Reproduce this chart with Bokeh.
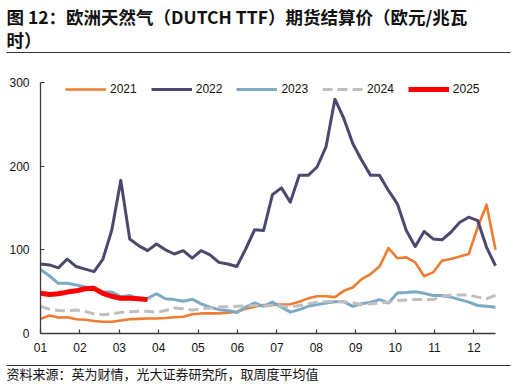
from bokeh.plotting import figure
from bokeh.models import Range1d, FixedTicker, Legend, LegendItem, Label
from bokeh.embed import file_html
from bokeh.resources import INLINE

# ---------------- data ----------------
title_line1 = "图 12：欧洲天然气（DUTCH TTF）期货结算价（欧元/兆瓦"
title_line2 = "时）"
source_text = "资料来源：英为财情，光大证券研究所，取周度平均值"

month_labels = ["01", "02", "03", "04", "05", "06", "07", "08", "09", "10", "11", "12"]
y_ticks = [0, 100, 200, 300]
years = ["2021", "2022", "2023", "2024", "2025"]
weeks_per_axis_year = 53  # weekly points per 12 month ticks

v2021 = [17.5, 21.5, 19, 19.5, 17, 16.5, 15, 14, 14, 15.5, 17, 17.5, 18, 18, 18.5, 19.5,
         20, 23, 24, 24, 24, 25, 26, 29.5, 32, 34, 34.5, 34.5, 35, 38, 42, 44.5, 44.5,
         43.5, 51, 55, 65, 71, 80, 102, 90, 91, 85, 68.5, 73, 87, 89, 92, 95, 127, 154, 100]
v2022 = [83, 82, 78.5, 89, 80, 77, 74, 89, 124, 183, 113, 105, 99, 107, 100, 95,
         99, 90, 99, 94, 85, 83, 80, 101, 124, 123, 166, 174, 157, 189, 189, 199, 223,
         280, 257, 227, 207, 189, 189, 171, 155, 123, 104, 122, 113, 112, 121, 133, 139,
         135, 103, 81]
v2023 = [76.5, 69, 60, 60, 58, 55.5, 53.5, 49.5, 49.5, 44, 45.5, 41.5, 42, 47.5, 41.5,
         40.5, 38.5, 41, 35.5, 31.5, 28.5, 27.5, 25, 31.5, 36.5, 32.5, 37.5, 31.5, 25.5,
         28.5, 32.5, 34.5, 36.5, 38, 38, 32.5, 35.5, 37.5, 40.5, 36.5, 48.5, 49, 50, 48,
         45.5, 45.5, 43.5, 40.5, 37.5, 33.5, 32.5, 31.5]
v2024 = [32.5, 29, 27.5, 27, 28, 26.5, 23.5, 22.5, 23.5, 25, 26, 26.5, 26.5, 25.5, 27.5,
         30.5, 29.5, 28, 29.5, 30.5, 32, 32, 32.5, 33, 33.5, 33, 33.5, 33, 31.5, 33.5,
         35.5, 37.5, 38, 38.5, 38, 36.5, 34.5, 35.5, 36.5, 37.5, 39.5, 40, 40.5, 40.5,
         40.5, 44, 46, 46, 46, 43.5, 41.5, 45.5]
v2025 = [48, 46.5, 47.5, 49.5, 51, 53.5, 54, 48, 44.5, 42, 42, 41.5, 40.5]

series_values = [v2021, v2022, v2023, v2024, v2025]
colors = ["#EE7D31", "#4B4A6E", "#7DA9C3", "#BFBFBF", "#FF0000"]
widths = [2.6, 3, 3, 3, 5]
dashes = ["solid", "solid", "solid", "10 5", "solid"]

TFONT = "Noto Sans CJK SC"
TICK_FONT = "Liberation Sans"

# ---------------- geometry (pixels) ----------------
W, H = 516, 386
PL, PR, PT, PB = 40, 495, 82, 333          # plot area edges on the canvas
x_end = 51 * 12 / weeks_per_axis_year
y_top = 300
sx = (PR - PL) / x_end
sy = (PB - PT) / y_top


def px_to_x(px):
    return (px - PL) / sx


def py_to_y(py):
    return (PB - py) / sy


p = figure(width=W, height=H, title=None, output_backend="svg", toolbar_location=None,
           x_range=Range1d(px_to_x(0), px_to_x(W)),
           y_range=Range1d(py_to_y(H), py_to_y(0)),
           min_border=0)
p.outline_line_color = None
p.grid.visible = False

renderers = []
for vals, c, w, d in zip(series_values, colors, widths, dashes):
    xs = [i * 12 / weeks_per_axis_year for i in range(len(vals))]
    r = p.line(xs, vals, line_color=c, line_width=w, line_dash=d, line_join="round")
    renderers.append(r)

for ax in (p.xaxis[0], p.yaxis[0]):
    ax.fixed_location = 0
    ax.axis_line_color = "#3a3a3a"
    ax.axis_line_width = 1.3
    ax.major_tick_line_color = "#3a3a3a"
    ax.major_tick_line_width = 1.2
    ax.major_tick_in = 4
    ax.major_tick_out = 0
    ax.minor_tick_line_color = None
    ax.major_label_text_font = TICK_FONT
    ax.major_label_text_font_size = "12px"
    ax.major_label_text_color = "#111111"

p.xaxis[0].bounds = (0, x_end)
p.xaxis[0].ticker = FixedTicker(ticks=list(range(12)))
p.xaxis[0].major_label_overrides = {i: m for i, m in enumerate(month_labels)}
p.xaxis[0].major_label_standoff = 9
p.yaxis[0].bounds = (0, y_top)
p.yaxis[0].ticker = FixedTicker(ticks=y_ticks)
p.yaxis[0].major_label_standoff = 11

legend = Legend(items=[LegendItem(label=y, renderers=[r]) for y, r in zip(years, renderers)],
                orientation="horizontal", location=(PL + 25, H - 99),
                glyph_width=41, glyph_height=14, label_standoff=4, spacing=14,
                padding=0, margin=0, border_line_alpha=0, background_fill_alpha=0,
                label_text_font=TICK_FONT, label_text_font_size="12px",
                label_text_color="#111111", label_height=20)
p.add_layout(legend, "center")

# ---------------- title / source / rules ----------------
p.add_layout(Label(x=6, y=H - 15.5, x_units="screen", y_units="screen",
                   text=title_line1, text_font=TFONT, text_font_size="17.5px",
                   text_font_style="bold", text_baseline="middle", text_color="#111111"))
p.add_layout(Label(x=6, y=H - 38.5, x_units="screen", y_units="screen",
                   text=title_line2, text_font=TFONT, text_font_size="17.5px",
                   text_font_style="bold", text_baseline="middle", text_color="#111111"))
rule_rows = [52, 365]
p.segment(x0=[px_to_x(6)] * 2, x1=[px_to_x(510)] * 2,
          y0=[py_to_y(r) for r in rule_rows], y1=[py_to_y(r) for r in rule_rows],
          line_color="#333333", line_width=1.2)
p.add_layout(Label(x=6, y=H - 372.5, x_units="screen", y_units="screen",
                   text=source_text, text_font=TFONT, text_font_size="13px",
                   text_baseline="middle", text_color="#111111"))

open("out.html", "w").write(file_html(p, INLINE))
